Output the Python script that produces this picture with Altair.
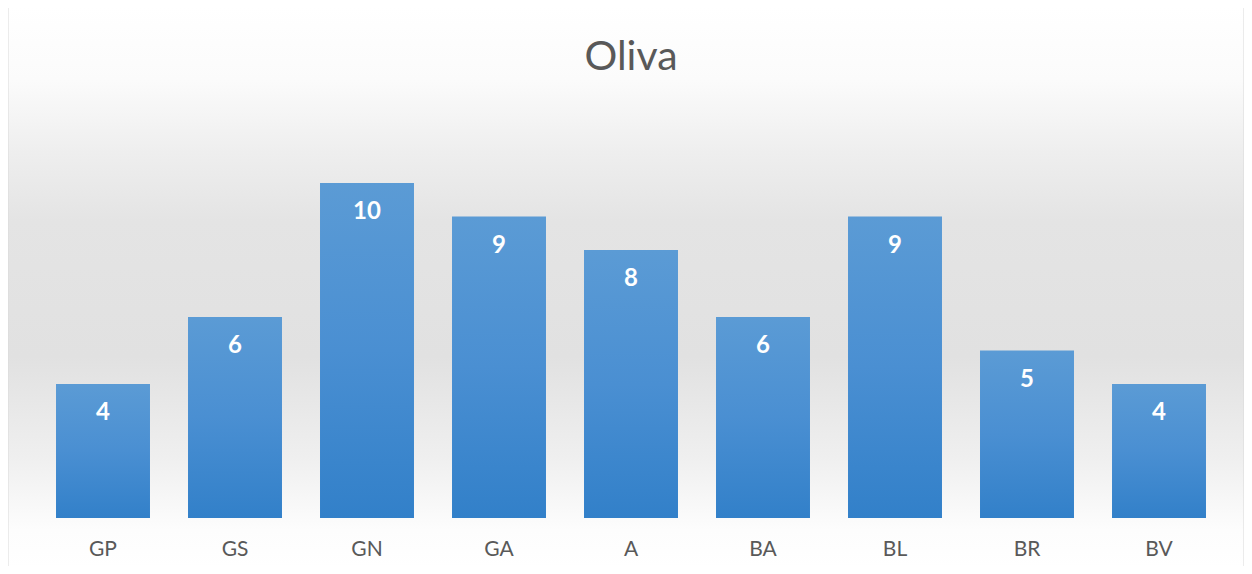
import altair as alt
import pandas as pd

categories = ["GP", "GS", "GN", "GA", "A", "BA", "BL", "BR", "BV"]
values = [4, 6, 10, 9, 8, 6, 9, 5, 4]
title_text = "Oliva"

df = pd.DataFrame({"cat": categories, "val": values})

W, H = 1188, 402
FONT = "Lato"

bg = alt.Chart(alt.Data(values=[{}])).mark_rect(
    color=alt.LinearGradient(
        gradient="linear", x1=0, y1=0, x2=0, y2=1,
        stops=[
            alt.GradientStop(color="#ffffff", offset=0),
            alt.GradientStop(color="#fbfbfb", offset=0.13),
            alt.GradientStop(color="#eeeeee", offset=0.26),
            alt.GradientStop(color="#e4e4e4", offset=0.38),
            alt.GradientStop(color="#e1e1e1", offset=0.62),
            alt.GradientStop(color="#efefef", offset=0.8),
            alt.GradientStop(color="#fdfdfd", offset=0.93),
            alt.GradientStop(color="#ffffff", offset=1),
        ],
    ),
    stroke="#d9d9d9",
    strokeWidth=1,
).encode(
    x=alt.value(-29), x2=alt.value(1207),
    y=alt.value(-109), y2=alt.value(454),
)

title = alt.Chart(alt.Data(values=[{"t": title_text}])).mark_text(
    fontSize=41, font=FONT, color="#595959", baseline="middle", align="center"
).encode(x=alt.value(W / 2), y=alt.value(-58), text="t:N")

xenc = alt.X("cat:N", sort=categories,
             scale=alt.Scale(paddingInner=0.288, paddingOuter=0.144),
             axis=alt.Axis(title=None, domain=False, ticks=False, labelAngle=0,
                           labelColor="#595959", labelFontSize=21, labelFont=FONT,
                           labelPadding=20, zindex=2))
yenc = alt.Y("val:Q", scale=alt.Scale(domain=[0, 12]), axis=None)

bars = alt.Chart(df).mark_bar(
    color=alt.LinearGradient(
        gradient="linear", x1=0, y1=0, x2=0, y2=1,
        stops=[
            alt.GradientStop(color="#5b9bd5", offset=0),
            alt.GradientStop(color="#4a8fd2", offset=0.5),
            alt.GradientStop(color="#3280c9", offset=1),
        ],
    )
).encode(x=xenc, y=yenc)

labels = alt.Chart(df).mark_text(
    color="white", fontWeight="bold", fontSize=24, font=FONT,
    baseline="middle", dy=29,
).encode(x=alt.X("cat:N", sort=categories), y="val:Q", text="val:Q")

chart = alt.layer(bg, title, bars, labels).properties(
    width=W, height=H,
    autosize=alt.AutoSizeParams(type="none"),
    padding={"left": 29, "top": 108, "right": 19, "bottom": 48},
).configure_view(stroke=None).configure(background="white")

chart.save("out.html", embed_options={"renderer": "svg", "actions": False})
